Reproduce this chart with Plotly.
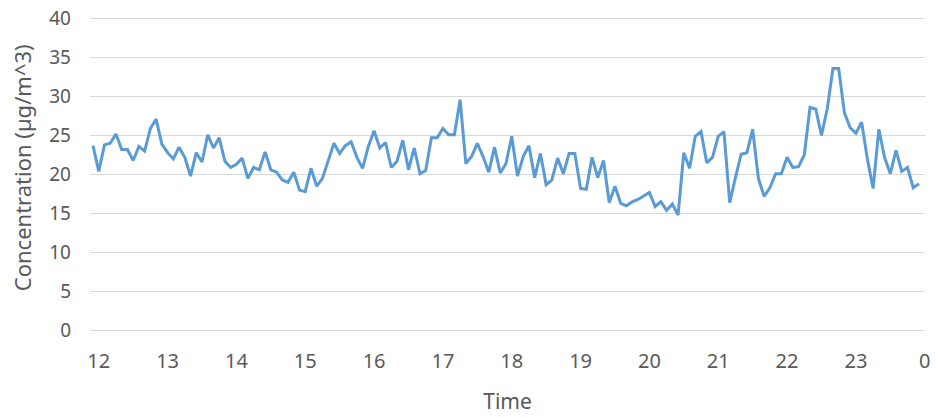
import plotly.graph_objects as go

# 5-minute readings, starting 11:55
start_hour = 11 + 55 / 60
step_hours = 5 / 60
concentration = [
    23.7, 20.4, 23.8, 24.0, 25.2, 23.2, 23.2, 21.8, 23.6, 23.0,
    25.9, 27.1, 23.9, 22.8, 22.0, 23.5, 22.2, 19.8, 22.8, 21.6,
    25.1, 23.4, 24.7, 21.7, 20.9, 21.3, 22.1, 19.5, 20.9, 20.6,
    22.9, 20.6, 20.3, 19.3, 19.0, 20.3, 18.0, 17.8, 20.8, 18.5,
    19.5, 21.7, 24.0, 22.7, 23.7, 24.2, 22.2, 20.8, 23.6, 25.6,
    23.4, 24.1, 20.9, 21.7, 24.4, 20.6, 23.4, 20.1, 20.5, 24.7,
    24.7, 25.9, 25.1, 25.1, 29.6, 21.4, 22.3, 24.0, 22.3, 20.3,
    23.5, 20.2, 21.4, 24.9, 19.8, 22.3, 23.7, 19.6, 22.7, 18.7,
    19.3, 22.1, 20.1, 22.7, 22.7, 18.2, 18.1, 22.2, 19.6, 21.8,
    16.4, 18.5, 16.3, 16.0, 16.5, 16.8, 17.3, 17.7, 15.9, 16.5,
    15.4, 16.2, 14.8, 22.8, 20.8, 24.9, 25.5, 21.5, 22.2, 24.9,
    25.5, 16.4, 19.6, 22.6, 22.8, 25.8, 19.5, 17.2, 18.3, 20.1,
    20.1, 22.2, 20.9, 21.0, 22.5, 28.6, 28.4, 25.0, 28.4, 33.6,
    33.6, 27.9, 26.0, 25.3, 26.7, 22.0, 18.2, 25.8, 22.2, 20.1,
    23.1, 20.4, 20.9, 18.3, 18.8,
]
times = [start_hour + i * step_hours for i in range(len(concentration))]

tick_hours = [12, 13, 14, 15, 16, 17, 18, 19, 20, 21, 22, 23, 24]
tick_labels = ["12", "13", "14", "15", "16", "17", "18", "19", "20", "21", "22", "23", "0"]
y_ticks = [0, 5, 10, 15, 20, 25, 30, 35, 40]
y_title = "Concentration (µg/m^3)"
x_title = "Time"

font_family = "Noto Sans, Open Sans, DejaVu Sans, sans-serif"
text_color = "#595959"
grid_color = "#d9d9d9"

fig = go.Figure(
    go.Scatter(
        x=times,
        y=concentration,
        mode="lines",
        line=dict(color="#5b9bd5", width=3),
        hoverinfo="x+y",
    )
)

fig.update_layout(
    width=936,
    height=417,
    margin=dict(l=90, r=11, t=17, b=85),
    paper_bgcolor="white",
    plot_bgcolor="white",
    showlegend=False,
    font=dict(family=font_family, color=text_color),
    annotations=[
        dict(
            text=y_title,
            xref="paper",
            yref="paper",
            x=-0.0814,
            y=0.52,
            xanchor="center",
            yanchor="middle",
            textangle=-90,
            showarrow=False,
            font=dict(size=22, color=text_color),
        )
    ],
)

fig.update_xaxes(
    range=[11.873, 24.004],
    tickmode="array",
    tickvals=tick_hours,
    ticktext=tick_labels,
    showgrid=False,
    zeroline=False,
    showline=False,
    ticks="",
    automargin=False,
    ticklabeloverflow="allow",
    ticklabelstandoff=15,
    tickfont=dict(size=20, color=text_color),
    title=dict(text=x_title, font=dict(size=21, color=text_color), standoff=21),
)

fig.update_yaxes(
    range=[-0.2, 40.2],
    tickmode="array",
    tickvals=y_ticks,
    showgrid=True,
    gridcolor=grid_color,
    gridwidth=1.3,
    zeroline=False,
    showline=False,
    ticks="",
    automargin=False,
    ticklabeloverflow="allow",
    ticklabelstandoff=18,
    tickfont=dict(size=19, color=text_color),
)

# remove the browser's default page margin so the figure sits at the top-left corner
fig.write_html(
    "out.html",
    config={"displayModeBar": False},
    post_script="document.body.style.margin='0';",
)
